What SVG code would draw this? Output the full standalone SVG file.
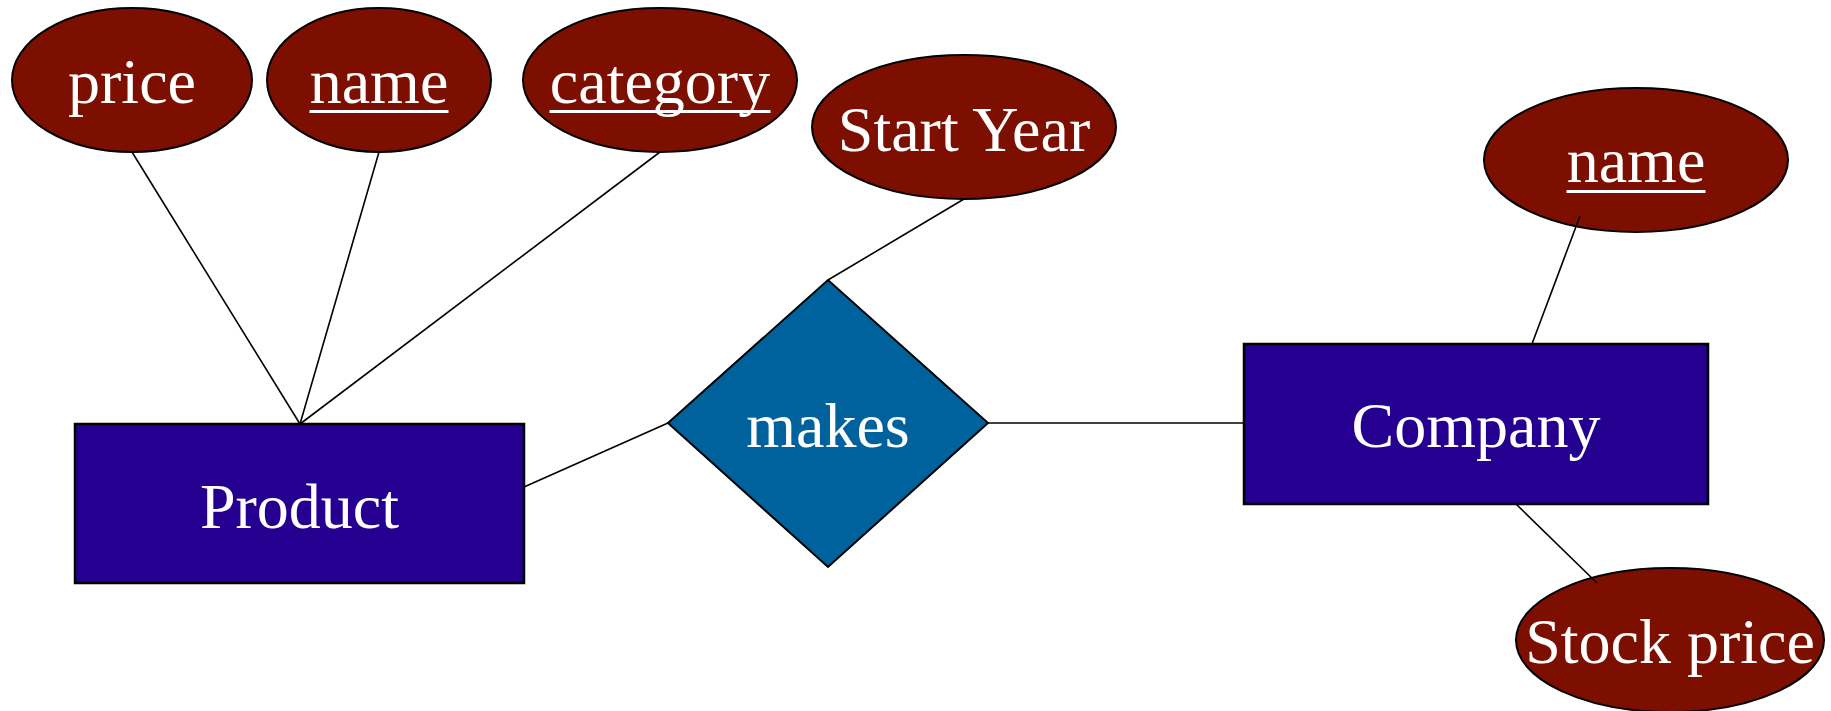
<svg xmlns="http://www.w3.org/2000/svg" width="1831" height="711" viewBox="0 0 1831 711">
<style>
.attr{fill:#7D0F00;stroke:#000;stroke-width:2}
.ent{fill:#250090;stroke:#000;stroke-width:2.5}
.rel{fill:#00629D;stroke:#000;stroke-width:2}
.lbl{font-family:"Liberation Serif","Times New Roman",serif;font-size:64px;fill:#fff;text-anchor:middle}
.ul{stroke:#fff;stroke-width:3.2}
.conn line{stroke:#000;stroke-width:1.6}
</style>
<rect width="1831" height="711" fill="#fff"/>
<g id="attr-price"><ellipse class="attr" cx="132" cy="80" rx="120" ry="72"/><text class="lbl" x="132" y="103">price</text></g>
<g id="attr-product-name"><ellipse class="attr" cx="379" cy="80" rx="112" ry="72"/><text class="lbl" x="379" y="103">name</text><line class="ul" x1="309.5" y1="111.5" x2="448.5" y2="111.5"/></g>
<g id="attr-category"><ellipse class="attr" cx="660" cy="80" rx="137" ry="72"/><text class="lbl" x="660" y="103">category</text><line class="ul" x1="549.5" y1="111.5" x2="770.5" y2="111.5"/></g>
<g id="attr-start-year"><ellipse class="attr" cx="964" cy="127" rx="152" ry="72"/><text class="lbl" x="964" y="151">Start Year</text></g>
<g id="attr-company-name"><ellipse class="attr" cx="1636" cy="160" rx="152" ry="72"/><text class="lbl" x="1636" y="182">name</text><line class="ul" x1="1566.5" y1="191.5" x2="1705.5" y2="191.5"/></g>
<g id="attr-stock-price"><ellipse class="attr" cx="1670" cy="640" rx="154" ry="72"/><text class="lbl" x="1670" y="663">Stock price</text></g>
<g id="entity-product"><rect class="ent" x="75" y="424" width="449" height="159"/><text class="lbl" x="299.5" y="528">Product</text></g>
<g id="entity-company"><rect class="ent" x="1244" y="344" width="464" height="160"/><text class="lbl" x="1476" y="447">Company</text></g>
<g id="rel-makes"><polygon class="rel" points="668,423 828,280 988,423 828,567"/><text class="lbl" x="828" y="447">makes</text></g>
<g id="connectors" class="conn">
<line x1="132" y1="152" x2="300" y2="424"/>
<line x1="379" y1="152" x2="300" y2="424"/>
<line x1="660" y1="152" x2="300" y2="424"/>
<line x1="524" y1="487" x2="668" y2="423"/>
<line x1="828" y1="280" x2="964" y2="199"/>
<line x1="988" y1="423" x2="1244" y2="423"/>
<line x1="1532" y1="344" x2="1580" y2="216"/>
<line x1="1516" y1="504" x2="1597" y2="583"/>
</g>
</svg>
